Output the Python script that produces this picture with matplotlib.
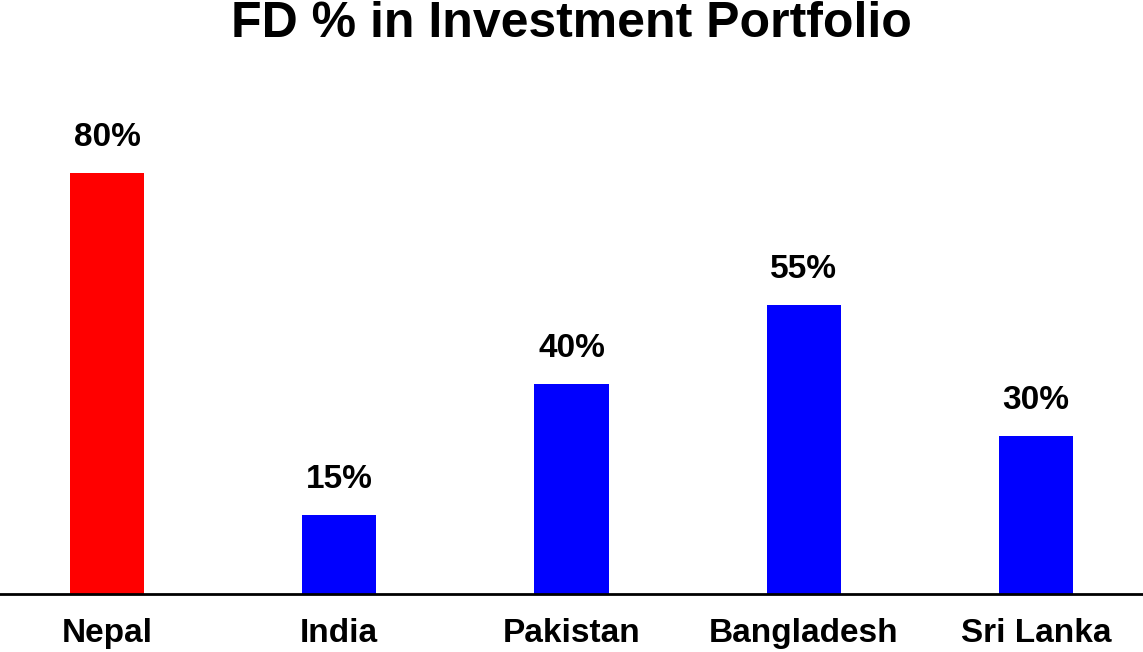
import matplotlib
import matplotlib.pyplot as plt

matplotlib.use("Agg")

# data
countries = ["Nepal", "India", "Pakistan", "Bangladesh", "Sri Lanka"]
fd_share = [80, 15, 40, 55, 30]
bar_colors = ["#ff0000", "#0000ff", "#0000ff", "#0000ff", "#0000ff"]

plt.rcParams['font.family'] = ['Liberation Sans', 'DejaVu Sans']

fig = plt.figure(figsize=(11.43, 6.52), dpi=100)
ax = fig.add_axes([0, 0.089, 1, 0.807])

x = list(range(len(countries)))
bars = ax.bar(x, fd_share, width=0.32, color=bar_colors)

# value labels above bars
for rect, val in zip(bars, fd_share):
    ax.annotate(f"{val}%", (rect.get_x() + rect.get_width() / 2, rect.get_height()),
                xytext=(0, 25.5), textcoords="offset points",
                ha="center", va="center", fontsize=24, fontweight="bold")

ax.set_xlim(-0.461, len(countries) - 1 + 0.461)
ax.set_ylim(0, 100)
ax.set_xticks(x)
ax.set_xticklabels(countries, fontsize=24, fontweight="bold")
ax.tick_params(axis="x", length=0, pad=17.5)
ax.set_yticks([])

for side in ["left", "right", "top"]:
    ax.spines[side].set_visible(False)
ax.spines["bottom"].set_linewidth(2)
ax.spines["bottom"].set_color("black")

fig.text(0.5, 1 - 37 / 652, "FD % in Investment Portfolio", ha="center", va="baseline",
         fontsize=36, fontweight="bold")

fig.savefig("out.png", dpi=100)
plt.close()
